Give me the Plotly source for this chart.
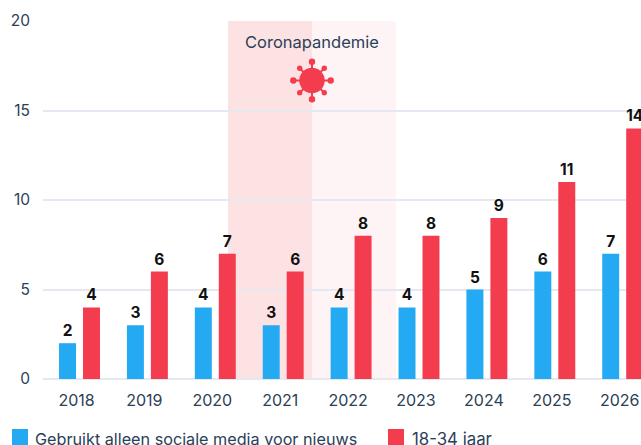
import math
import plotly.graph_objects as go

years = ["2018", "2019", "2020", "2021", "2022", "2023", "2024", "2025", "2026"]
social_only = [2, 3, 4, 3, 4, 4, 5, 6, 7]
young_adults = [4, 6, 7, 6, 8, 8, 9, 11, 14]
series_names = ["Gebruikt alleen sociale media voor nieuws", "18-34 jaar"]
y_ticks = [0, 5, 10, 15, 20]
band_label = "Coronapandemie"

W, H = 641, 445
L, R, T, B = 43, 641, 21, 379
BLUE, RED, TXT, GRID = "#24aaf2", "#f43c4f", "#2b4058", "#e5e8f0"
FONT = "Inter, Lato, sans-serif"
STEP = 67.9
x_pos = list(range(len(years)))
tick_pos = [i - 3 / STEP for i in x_pos]

def px2x(p):
    return (p - 79.5) / STEP

fig = go.Figure()
for name, vals, col in [(series_names[0], social_only, BLUE), (series_names[1], young_adults, RED)]:
    fig.add_trace(go.Bar(
        x=x_pos, y=vals, name=name, marker=dict(color=col, line=dict(width=0)),
        text=vals, textposition="outside", cliponaxis=False,
        textfont=dict(family=FONT, size=15.5, color="#111111", weight=700),
        hoverinfo="skip", showlegend=False))

shapes = [
    dict(type="rect", xref="x", yref="y", x0=px2x(228), x1=px2x(312), y0=0, y1=20,
         fillcolor="rgba(240,60,70,0.15)", line_width=0, layer="below"),
    dict(type="rect", xref="x", yref="y", x0=px2x(312), x1=px2x(396), y0=0, y1=20,
         fillcolor="rgba(244,60,79,0.06)", line_width=0, layer="below"),
]

cx, cy = px2x(312), 20 * (B - 80.5) / (B - T)
def dot(r, dx=0, dy=0):
    return dict(type="circle", xref="x", yref="y", xsizemode="pixel", ysizemode="pixel",
                xanchor=cx, yanchor=cy, x0=dx - r, x1=dx + r, y0=dy - r, y1=dy + r,
                fillcolor=RED, line_width=0, layer="above")
def spoke(dx, dy):
    return dict(type="line", xref="x", yref="y", xsizemode="pixel", ysizemode="pixel",
                xanchor=cx, yanchor=cy, x0=0, y0=0, x1=dx, y1=dy,
                line=dict(color=RED, width=2), layer="above")
shapes.append(dot(12.7))
for k in range(8):
    a = k * math.pi / 4
    d, r = (18.7, 3.2) if k % 2 == 0 else (17.4, 2.7)
    dx, dy = d * math.cos(a), d * math.sin(a)
    shapes += [spoke(dx, dy), dot(r, dx, dy)]

def pxy(p):
    return (B - p) / (B - T)
def pxx(p):
    return (p - L) / (R - L)
annotations = [
    dict(text=band_label, xref="paper", yref="paper", x=pxx(312), y=pxy(42), xanchor="center",
         yanchor="middle", showarrow=False, font=dict(family=FONT, size=16.5, color=TXT)),
]
for x0, col, label, tx, size in [(12, BLUE, series_names[0], 33, 16.2), (388, RED, series_names[1], 410, 16.8)]:
    shapes.append(dict(type="rect", xref="paper", yref="paper", x0=pxx(x0), x1=pxx(x0 + 16),
                       y0=pxy(445), y1=pxy(429), fillcolor=col, line_width=0))
    annotations.append(dict(text=label, xref="paper", yref="paper", x=pxx(tx), y=pxy(439),
                            xanchor="left", yanchor="middle", showarrow=False,
                            font=dict(family=FONT, size=size, color=TXT)))

fig.update_layout(
    width=W, height=H, margin=dict(l=L, r=W - R, t=T, b=H - B, pad=0),
    paper_bgcolor="white", plot_bgcolor="white", barmode="group",
    bargap=0.294, bargroupgap=0.292, shapes=shapes, annotations=annotations,
    font=dict(family=FONT, size=16, color=TXT),
    xaxis=dict(range=[px2x(L), px2x(R)], tickmode="array", tickvals=tick_pos, ticktext=years,
               showgrid=False, zeroline=False, showline=False, ticks="", ticklabelstandoff=10,
               ticklabeloverflow="allow", fixedrange=True),
    yaxis=dict(range=[0, 20], tickmode="array", tickvals=y_ticks, showgrid=True, gridcolor=GRID,
               gridwidth=2, zeroline=True, zerolinecolor=GRID, zerolinewidth=2, showline=False,
               ticks="", ticklabelstandoff=12, tickfont=dict(size=15.5), fixedrange=True),
)
fig.write_html("out.html", config={"displayModeBar": False},
               post_script="document.body.style.margin='0';document.documentElement.style.overflow='hidden';")
